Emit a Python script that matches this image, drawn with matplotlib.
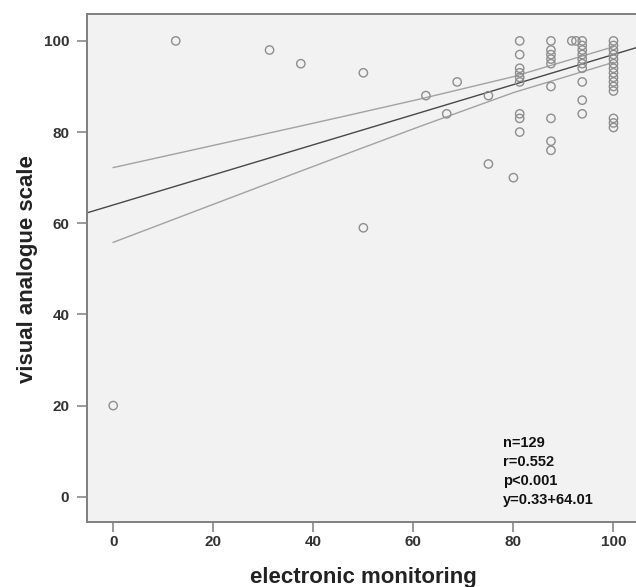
import numpy as np
import matplotlib
matplotlib.use("Agg")
import matplotlib.pyplot as plt

# ---- data ----
em_isolated = [0, 12.5, 31.25, 37.5, 50, 50, 62.5, 66.67, 68.75, 75, 75, 80]
vas_isolated = [20, 100, 98, 95, 93, 59, 88, 84, 91, 88, 73, 70]

em_81 = [81.25] * 9
vas_81 = [100, 97, 94, 93, 92, 91, 84, 83, 80]

em_87 = [87.5] * 9
vas_87 = [100, 98, 97, 96, 95, 90, 83, 78, 76]

em_92 = [91.67, 92.5]
vas_92 = [100, 100]

em_94 = [93.75] * 10
vas_94 = [100, 99, 98, 97, 96, 95, 94, 91, 87, 84]

em_100 = [100] * 15
vas_100 = [100, 99, 98, 97, 96, 95, 94, 93, 92, 91, 90, 89, 83, 82, 81]

fit_slope = 0.33
fit_intercept = 64.01

ci_x = [0, 20, 40, 60, 80, 100]
ci_halfwidth = [8.2, 6.45, 4.73, 3.09, 1.75, 1.71]

x_ticks = [0, 20, 40, 60, 80, 100]
y_ticks = [0, 20, 40, 60, 80, 100]

annot_lines = ["n=129", "r=0.552", "p<0.001", "y=0.33+64.01"]

x_all = np.array(em_isolated + em_81 + em_87 + em_92 + em_94 + em_100, dtype=float)
y_all = np.array(vas_isolated + vas_81 + vas_87 + vas_92 + vas_94 + vas_100, dtype=float)

# ---- figure ----
W, H = 636, 587
fig = plt.figure(figsize=(W / 100, H / 100), dpi=100)
fig.patch.set_facecolor("white")

left_px, right_px, top_px, bottom_px = 86.7, 636, 14, 522.3
ax = fig.add_axes([left_px / W, 1 - bottom_px / H,
                   (right_px - left_px) / W, (bottom_px - top_px) / H])
ax.set_facecolor("#f2f2f2")
ax.set_xlim(-5.3, 104.5)
ax.set_ylim(-5.6, 105.9)

spine_col = "#7f7f7f"
for s in ["left", "bottom", "top"]:
    ax.spines[s].set_color(spine_col)
    ax.spines[s].set_linewidth(1.4)
ax.spines["right"].set_visible(False)

# regression line across full x-range
xl = np.array(ax.get_xlim())
ax.plot(xl, fit_intercept + fit_slope * xl, color="#484848", lw=1.0, zorder=2)

# confidence band for the mean
cx = np.array(ci_x, dtype=float)
chw = np.array(ci_halfwidth)
xs = np.linspace(0, 100, 200)
hw = np.interp(xs, cx, chw)
fit_xs = fit_intercept + fit_slope * xs
ax.plot(xs, fit_xs + hw, color="#a2a2a2", lw=1.0, zorder=2)
ax.plot(xs, fit_xs - hw, color="#a2a2a2", lw=1.0, zorder=2)

ax.scatter(x_all, y_all, s=36, facecolors="none", edgecolors="#8e8e8e",
           linewidths=1.0, zorder=3)

tick_font = dict(family=["Liberation Sans", "DejaVu Sans"], weight="bold", size=11)
ax.set_xticks(x_ticks)
ax.set_yticks(y_ticks)
ax.set_xticklabels([str(t) for t in x_ticks], fontdict=tick_font, color="#333333")
ax.set_yticklabels([str(t) for t in y_ticks], fontdict=tick_font, color="#333333")
ax.tick_params(axis="both", direction="out", length=7, width=1.1, color=spine_col)
ax.tick_params(axis="x", pad=2.0)
ax.tick_params(axis="y", pad=5.5)

label_font = dict(family=["Liberation Sans", "DejaVu Sans"], weight="bold", size=16)
fig.text(363 / W, 1 - 583 / H, "electronic monitoring", ha="center",
         va="baseline", color="#222222", **label_font)
fig.text(33.5 / W, 1 - 269 / H, "visual analogue scale", rotation=90,
         rotation_mode="anchor", ha="center", va="baseline", color="#222222",
         **label_font)

annot_font = dict(family=["Liberation Sans", "DejaVu Sans"], weight="bold", size=10.5)
annot_y = [442.7, 461.7, 481, 500]
for txt, yy in zip(annot_lines, annot_y):
    fig.text(503.3 / W, 1 - yy / H, txt, ha="left", va="center",
             color="#111111", **annot_font)

fig.savefig("out.png", dpi=100, facecolor="white")
